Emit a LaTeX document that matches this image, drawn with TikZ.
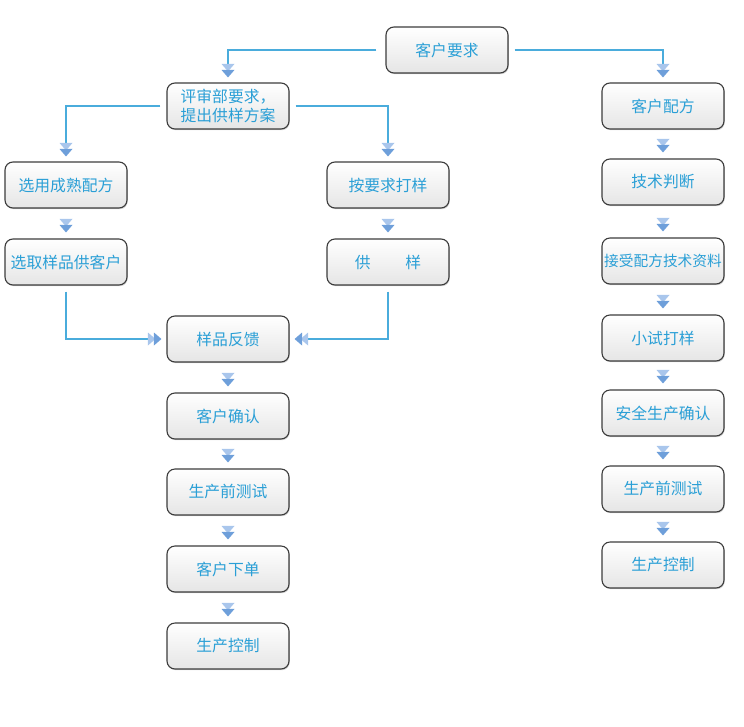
\documentclass[tikz,border=0pt]{standalone}
\usepackage{fontspec}
\setmainfont{Noto Sans CJK SC}
\usetikzlibrary{shadows,calc}
\definecolor{txt}{HTML}{2A9FD6}
\definecolor{ln}{HTML}{4AACDC}
\definecolor{triA}{HTML}{A9C6EC}
\definecolor{triB}{HTML}{6E9FDA}
\definecolor{bord}{HTML}{3C3C3C}
\tikzset{
  box/.style={draw=bord, line width=1.1pt, rounded corners=8pt,
    minimum width=122pt, minimum height=46pt, top color=white, bottom color=gray!20,
    text=txt, font=\fontsize{15.8}{19}\selectfont, inner sep=2pt, align=left,
    drop shadow={shadow xshift=0.8pt, shadow yshift=-1.2pt, opacity=0.35}},
  conn/.style={draw=ln, line width=1.2pt, shorten <=6pt, shorten >=6pt},
  dtri/.pic={
    \fill[triA] (-6.5,-13.5) -- (6.5,-13.5) -- (0,-6) -- cycle;
    \fill[triB] (-6.5,-7.5) -- (6.5,-7.5) -- (0,0) -- cycle;
  }
}
\begin{document}
\begin{tikzpicture}[x=1pt,y=-1pt]
\useasboundingbox (0,0) rectangle (744,726);
% left/main column
\node[box] (req)  at (447,50)  {客户要求};
\node[box] (rev)  at (228,106) {评审部要求，\\提出供样方案};
\node[box] (mat)  at (66,185)  {选用成熟配方};
\node[box] (sel)  at (66,262)  {选取样品供客户};
\node[box] (mk)   at (388,185) {按要求打样};
\node[box] (sup)  at (388,262) {供\hspace{2.2em}样};
\node[box] (fb)   at (228,339) {样品反馈};
\node[box] (cc)   at (228,416) {客户确认};
\node[box] (pt1)  at (228,492) {生产前测试};
\node[box] (ord)  at (228,569) {客户下单};
\node[box] (pc1)  at (228,646) {生产控制};
% right column
\node[box] (cf)   at (663,106) {客户配方};
\node[box] (tj)   at (663,182) {技术判断};
\node[box, font=\fontsize{14.7}{17}\selectfont] (acc) at (663,261) {接受配方技术资料};
\node[box] (ts)   at (663,338) {小试打样};
\node[box] (sc)   at (663,413) {安全生产确认};
\node[box] (pt2)  at (663,489) {生产前测试};
\node[box] (pc2)  at (663,565) {生产控制};

% line connectors
\draw[conn, shorten <=9pt] (req.west) -| (rev.north);
\pic at ([yshift=5pt]rev.north) {dtri};
\draw[conn] (req.east) -| (cf.north);
\pic at ([yshift=5pt]cf.north) {dtri};
\draw[conn] (rev.west) -| (mat.north);
\pic at ([yshift=5pt]mat.north) {dtri};
\draw[conn] (rev.east) -| (mk.north);
\pic at ([yshift=5pt]mk.north) {dtri};
\draw[conn] (sel.south) |- (fb.west);
\pic[rotate=90] at ([xshift=-5pt]fb.west) {dtri};
\draw[conn] (sup.south) |- (fb.east);
\pic[rotate=-90] at ([xshift=5pt]fb.east) {dtri};

% standalone arrows
\foreach \a/\b in {mat/sel, mk/sup, fb/cc, cc/pt1, pt1/ord, ord/pc1,
                   cf/tj, tj/acc, acc/ts, ts/sc, sc/pt2, pt2/pc2}{
  \pic at ([yshift=6pt]\b.north) {dtri};
}
\end{tikzpicture}
\end{document}
